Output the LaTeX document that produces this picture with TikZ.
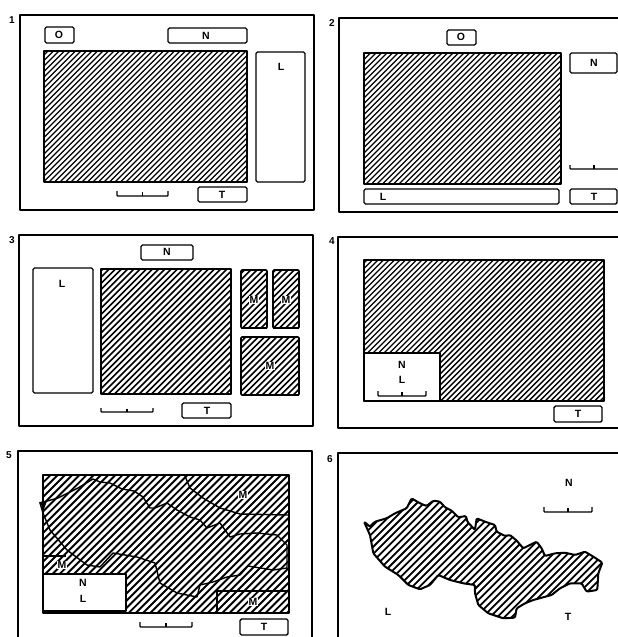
\documentclass[tikz,border=0pt]{standalone}
\usepackage{fontspec}
\setmainfont{Liberation Sans}
\tikzset{
  frameline/.style={line width=1.15pt,line cap=round,line join=round},
  mapline/.style={line width=1.7pt,line join=round},
  boxline/.style={line width=1.4pt,rounded corners=1.5pt},
  hatchline/.style={line width=#1},
  thinborder/.style={line width=1.4pt,line join=round},
  lbl/.style={inner sep=0pt,font=\fontsize{10.5}{10.5}\selectfont\bfseries},
  numlbl/.style={inner sep=0pt,font=\fontsize{10}{10}\selectfont\bfseries},
  scalebar/.style={line width=1.2pt,rounded corners=0.8pt}
}
% hatch lines across the picture, inside the clip set by the caller: gap (px, horizontal), stroke width
\newcommand{\hatchlines}[2]{%
  \foreach \s in {0,#1,...,1260}{\draw[hatchline=#2] (\s,0) -- ({\s-640},640);}}
\newcommand{\hatchrect}[6]{%
  \begin{scope}\clip (#1,#2) rectangle (#3,#4);\hatchlines{#5}{#6}\end{scope}%
  \draw[mapline] (#1,#2) rectangle (#3,#4);}
\newcommand{\sbar}[4]{% x0 x1 ytop ybottom
  \draw[scalebar] (#1,#3) -- (#1,#4) -- (#2,#4) -- (#2,#3);
  \draw[scalebar] ({(#1+#2)/2},{#3+1}) -- ({(#1+#2)/2},#4);}
\begin{document}
\begin{tikzpicture}[x=1pt,y=-1pt]
\useasboundingbox (0,0) rectangle (618,637);
\clip (0,0) rectangle (618,637);
% --- panel 1
\node[numlbl] (num1) at (12,20) {1};
\draw[frameline] (20,15) rectangle (314,210);
\draw[boxline] (45,27) rectangle (74,43);
\node[lbl] (o1) at (59,35) {O};
\draw[boxline] (168,28) rectangle (247,43);
\node[lbl] (n1) at (206,36) {N};
\hatchrect{44}{51}{247}{182}{5.5}{1.4pt}
\draw[boxline] (256,52) rectangle (305,182);
\node[lbl] (l1) at (281,67) {L};
\sbar{117}{168}{191}{196}
\draw[boxline] (198,187) rectangle (247,202);
\node[lbl] (t1) at (222,195) {T};
% --- panel 2
\node[numlbl] (num2) at (332,23) {2};
\draw[frameline] (618,18) -- (339,18) -- (339,212) -- (618,212);
\draw[boxline] (447,30) rectangle (476,45);
\node[lbl] (o2) at (461,37) {O};
\hatchrect{364}{53}{561}{184}{5.5}{1.4pt}
\draw[boxline] (570,53) rectangle (617,73);
\node[lbl] (n2) at (594,63) {N};
\draw[scalebar] (570,165) -- (570,169) -- (618,169);
\draw[scalebar] (594,165) -- (594,169);
\draw[boxline] (364,189) rectangle (559,204);
\node[lbl] (l2) at (383,197) {L};
\draw[boxline] (570,189) rectangle (617,204);
\node[lbl] (t2) at (594,197) {T};
% --- panel 3
\node[numlbl] (num3) at (12,240) {3};
\draw[frameline] (19,235) rectangle (313,426);
\draw[boxline] (141,245) rectangle (193,260);
\node[lbl] (n3) at (167,252) {N};
\draw[boxline] (33,268) rectangle (93,393);
\node[lbl] (l3) at (62,284) {L};
\hatchrect{101}{269}{231}{394}{6.2}{1.6pt}
\begin{scope}[mapline/.append style={rounded corners=1pt}]
\hatchrect{241}{270}{267}{328}{6.2}{1.6pt}
\hatchrect{273}{270}{299}{328}{6.2}{1.6pt}
\hatchrect{241}{337}{299}{395}{6.2}{1.6pt}
\end{scope}
\node[lbl,fill=white,inner sep=0.3pt] (m31) at (254,300) {M};
\node[lbl,fill=white,inner sep=0.3pt] (m32) at (286,300) {M};
\node[lbl,fill=white,inner sep=0.3pt] (m33) at (270,366) {M};
\sbar{101}{153}{408}{412}
\draw[boxline] (182,403) rectangle (231,418);
\node[lbl] (t3) at (207,411) {T};
% --- panel 4
\node[numlbl] (num4) at (332,241) {4};
\draw[frameline] (618,237) -- (338,237) -- (338,428) -- (618,428);
\hatchrect{364}{260}{604}{401}{5.5}{1.4pt}
\draw[mapline,fill=white] (364,353) rectangle (440,401);
\node[lbl] (n4) at (402,365) {N};
\node[lbl] (l4) at (402,380) {L};
\sbar{378}{426}{391}{396}
\draw[boxline] (554,406) rectangle (602,422);
\node[lbl] (t4) at (578,414) {T};
% --- panel 5
\node[numlbl] (num5) at (9,455) {5};
\draw[frameline] (18,640) -- (18,451) -- (312,451) -- (312,640);
\hatchrect{43}{475}{289}{613}{7.2}{1.9pt}
\draw[thinborder] (40,503) -- (58,498) -- (78,488) -- (93,479) -- (100,482) -- (110,483) -- (122,489) -- (134,491) -- (143,497) -- (150,508) -- (155,508) -- (167,503) -- (177,510) -- (190,517) -- (200,520) -- (207,528) -- (220,523) -- (230,537) -- (240,534) -- (257,533) -- (277,535) -- (287,545) -- (287,568) -- (273,570) -- (248,566) -- (240,575) -- (227,577) -- (213,582) -- (200,585) -- (197,597) -- (177,593) -- (160,583) -- (155,563) -- (137,557) -- (113,553) -- (100,567) -- (87,565) -- (67,550) -- (50,530) -- (43,513) -- cycle;
\fill (39,502) -- (47,501) -- (44,509) -- cycle;
\draw[thinborder] (185,476) -- (190,488) -- (203,498) -- (220,508) -- (240,514) -- (288,515);
\draw[thinborder] (43,556) -- (66,556);
\node[lbl,fill=white,inner sep=0.3pt] (m51) at (243,495) {M};
\node[lbl,fill=white,inner sep=0.3pt] (m52) at (62,565) {M};
\draw[thinborder] (217,613) -- (217,591) -- (288,591);
\node[lbl,fill=white,inner sep=0.3pt] (m53) at (253,602) {M};
\draw[mapline,fill=white] (43,574) rectangle (126,611);
\node[lbl] (n5) at (83,583) {N};
\node[lbl] (l5) at (83,599) {L};
\sbar{140}{192}{622}{627}
\draw[boxline] (240,619) rectangle (288,635);
\node[lbl] (t5) at (264,627) {T};
% --- panel 6
\node[numlbl] (num6) at (330,459) {6};
\draw[frameline] (338,640) -- (338,453) -- (618,453);
\begin{scope}[xshift=320pt,yshift=-420pt,x=0.3333pt,y=-0.3333pt]
\def\country{(132,305) -- (150,320) -- (165,305) -- (200,295) -- (225,280) -- (260,265) -- (275,235) -- (300,250) -- (320,258) -- (340,242) -- (360,245) -- (375,262) -- (395,272) -- (415,292) -- (438,288) -- (442,305) -- (465,330) -- (470,295) -- (495,305) -- (525,315) -- (530,335) -- (555,348) -- (570,345) -- (590,362) -- (610,385) -- (630,375) -- (650,365) -- (665,385) -- (675,408) -- (705,400) -- (735,398) -- (765,405) -- (795,395) -- (820,410) -- (847,428) -- (835,460) -- (832,510) -- (800,515) -- (785,490) -- (750,490) -- (720,505) -- (695,525) -- (640,540) -- (615,550) -- (590,565) -- (585,593) -- (550,595) -- (505,580) -- (475,555) -- (465,520) -- (465,495) -- (430,490) -- (390,480) -- (355,465) -- (330,495) -- (300,508) -- (265,495) -- (235,465) -- (195,440) -- (160,400) -- (150,345) -- cycle}
\begin{scope}
\clip \country;
\foreach \s in {0,21.6,...,1800}{\draw[hatchline=1.8pt] (\s,0) -- ({\s-1000},1000);}
\end{scope}
\draw[line width=2pt,line join=round,rounded corners=1.2pt] \country;
\end{scope}
\node[lbl] (n6) at (569,483) {N};
\sbar{544}{592}{507}{512}
\node[lbl] (l6) at (388,612) {L};
\node[lbl] (t6) at (568,617) {T};
\end{tikzpicture}
\end{document}
